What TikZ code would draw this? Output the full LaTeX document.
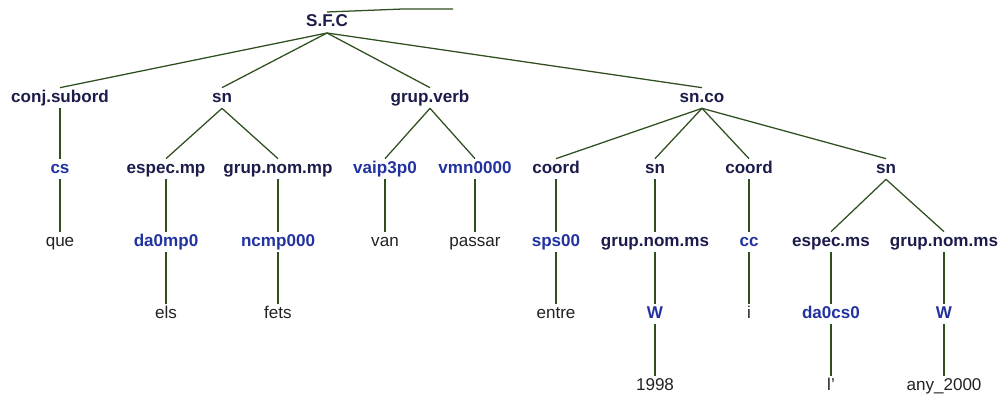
\documentclass[tikz,border=0pt]{standalone}
\usepackage{fontspec}
\setmainfont{Liberation Sans}
\definecolor{navy}{HTML}{1C1C4C}
\definecolor{tagblue}{HTML}{2233A0}
\definecolor{wordgray}{HTML}{222222}
\definecolor{edge}{HTML}{2F4F1F}
\tikzset{
  base/.style={inner xsep=0pt, inner ysep=1.5pt, text height=9.4pt, text depth=2.7pt, yshift=-1.5pt, font=\fontsize{12.8}{14}\selectfont},
  cat/.style={base, text=navy, font=\fontsize{12.8}{14}\selectfont\bfseries},
  tag/.style={base, text=tagblue, font=\fontsize{12.8}{14}\selectfont\bfseries},
  word/.style={base, text=wordgray},
  br/.style={draw=edge, line width=0.95pt}
}
\begin{document}
\begin{tikzpicture}[x=0.75pt,y=-0.75pt]
\useasboundingbox (0,0) rectangle (1002,398);
% level 0
\node[cat] (root) at (327,20) {S.F.C};
\coordinate (rj) at (327,33);
\coordinate (t1) at (327,12);
\coordinate (t2) at (403,9);
\coordinate (t3) at (453,9);
% level 1
\node[cat] (conj) at (60,96) {conj.subord};
\node[cat] (sn1) at (222,96) {sn};
\node[cat] (gv) at (430,96) {grup.verb};
\node[cat] (snco) at (702,96) {sn.co};
% level 2
\node[tag] (cs) at (60,167) {cs};
\node[cat] (espmp) at (166,167) {espec.mp};
\node[cat] (gnmp) at (278,167) {grup.nom.mp};
\node[tag] (vaip) at (385,167) {vaip3p0};
\node[tag] (vmn) at (475,167) {vmn0000};
\node[cat] (coord1) at (556,167) {coord};
\node[cat] (sn2) at (655,167) {sn};
\node[cat] (coord2) at (749,167) {coord};
\node[cat] (sn3) at (886,167) {sn};
% level 3
\node[word] (que) at (60,240) {que};
\node[tag] (da0mp0) at (166,240) {da0mp0};
\node[tag] (ncmp) at (278,240) {ncmp000};
\node[word] (van) at (385,240) {van};
\node[word] (passar) at (475,240) {passar};
\node[tag] (sps) at (556,240) {sps00};
\node[cat] (gnms1) at (655,240) {grup.nom.ms};
\node[tag] (cc) at (749,240) {cc};
\node[cat] (espms) at (831,240) {espec.ms};
\node[cat] (gnms2) at (944,240) {grup.nom.ms};
% level 4
\node[word] (els) at (166,312) {els};
\node[word] (fets) at (278,312) {fets};
\node[word] (entre) at (556,312) {entre};
\node[tag] (w1) at (655,312) {W};
\node[word] (i) at (749,312) {i};
\node[tag] (da0cs0) at (831,312) {da0cs0};
\node[tag] (w2) at (944,312) {W};
% level 5
\node[word] (y1998) at (655,384) {1998};
\node[word] (lap) at (831,384) {l’};
\node[word] (any) at (944,384) {any\_2000};
% edges
\draw[br] (t1) -- (t2) -- (t3);
\foreach \c in {conj,sn1,gv,snco} \draw[br] (rj) -- (\c.north);
\draw[br] (conj.south) -- (cs.north);
\draw[br] (cs.south) -- (que.north);
\draw[br] (sn1.south) -- (espmp.north);
\draw[br] (sn1.south) -- (gnmp.north);
\draw[br] (espmp.south) -- (da0mp0.north);
\draw[br] (da0mp0.south) -- (els.north);
\draw[br] (gnmp.south) -- (ncmp.north);
\draw[br] (ncmp.south) -- (fets.north);
\draw[br] (gv.south) -- (vaip.north);
\draw[br] (gv.south) -- (vmn.north);
\draw[br] (vaip.south) -- (van.north);
\draw[br] (vmn.south) -- (passar.north);
\foreach \c in {coord1,sn2,coord2,sn3} \draw[br] (snco.south) -- (\c.north);
\draw[br] (coord1.south) -- (sps.north);
\draw[br] (sps.south) -- (entre.north);
\draw[br] (sn2.south) -- (gnms1.north);
\draw[br] (gnms1.south) -- (w1.north);
\draw[br] (w1.south) -- (y1998.north);
\draw[br] (coord2.south) -- (cc.north);
\draw[br] (cc.south) -- (i.north);
\draw[br] (sn3.south) -- (espms.north);
\draw[br] (sn3.south) -- (gnms2.north);
\draw[br] (espms.south) -- (da0cs0.north);
\draw[br] (da0cs0.south) -- (lap.north);
\draw[br] (gnms2.south) -- (w2.north);
\draw[br] (w2.south) -- (any.north);
\end{tikzpicture}
\end{document}
